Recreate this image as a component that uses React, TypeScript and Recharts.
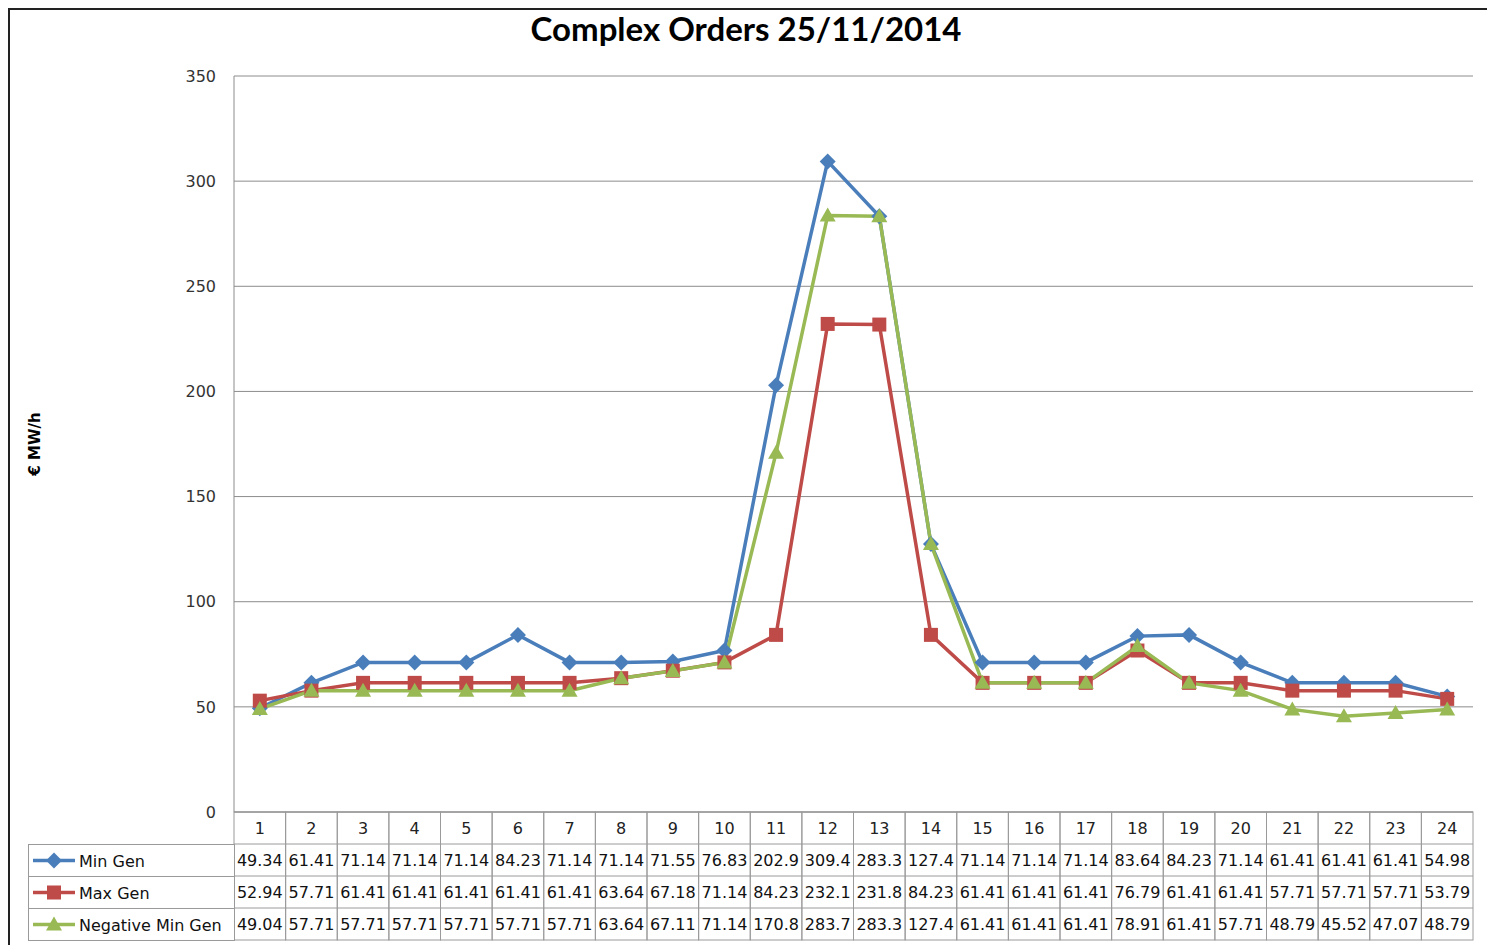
import {
  CartesianGrid,
  Legend,
  Line,
  LineChart,
  XAxis,
  YAxis
} from "recharts";

const hours = ["1", "2", "3", "4", "5", "6", "7", "8", "9", "10", "11", "12", "13", "14", "15", "16", "17", "18", "19", "20", "21", "22", "23", "24"];
const minGen = [49.34, 61.41, 71.14, 71.14, 71.14, 84.23, 71.14, 71.14, 71.55, 76.83, 202.9, 309.4, 283.3, 127.4, 71.14, 71.14, 71.14, 83.64, 84.23, 71.14, 61.41, 61.41, 61.41, 54.98];
const maxGen = [52.94, 57.71, 61.41, 61.41, 61.41, 61.41, 61.41, 63.64, 67.18, 71.14, 84.23, 232.1, 231.8, 84.23, 61.41, 61.41, 61.41, 76.79, 61.41, 61.41, 57.71, 57.71, 57.71, 53.79];
const negMinGen = [49.04, 57.71, 57.71, 57.71, 57.71, 57.71, 57.71, 63.64, 67.11, 71.14, 170.8, 283.7, 283.3, 127.4, 61.41, 61.41, 61.41, 78.91, 61.41, 57.71, 48.79, 45.52, 47.07, 48.79];
const yTicks = [0, 50, 100, 150, 200, 250, 300, 350];

const data = hours.map((h, i) => ({
  hour: h,
  minGen: minGen[i],
  maxGen: maxGen[i],
  negMinGen: negMinGen[i]
}));

const W = 1477;
const H = 935;
const PLOT_LEFT = 224;
const RIGHT = 14;
const COL_W = (W - PLOT_LEFT - RIGHT) / hours.length;
const ROW_H = 32;
const BORDER = "#9a9a9a";
const FONT = "'DejaVu Sans', Verdana, sans-serif";

const BLUE = "#4A7EBB";
const RED = "#BE4B48";
const GREEN = "#98B954";

function Marker({ kind, cx, cy, color }: { kind: string; cx: number; cy: number; color: string }) {
  if (kind === "diamond") {
    return <path d={`M${cx},${cy - 8}L${cx + 8},${cy}L${cx},${cy + 8}L${cx - 8},${cy}Z`} fill={color} />;
  }
  if (kind === "square") {
    return <rect x={cx - 7} y={cy - 7} width={14} height={14} fill={color} />;
  }
  return <path d={`M${cx},${cy - 8}L${cx + 8},${cy + 6}L${cx - 8},${cy + 6}Z`} fill={color} />;
}

const series = [
  { key: "minGen", name: "Min Gen", color: BLUE, kind: "diamond", values: minGen },
  { key: "maxGen", name: "Max Gen", color: RED, kind: "square", values: maxGen },
  { key: "negMinGen", name: "Negative Min Gen", color: GREEN, kind: "triangle", values: negMinGen }
];

function TableTick(props: any) {
  const { x, y, payload, index } = props;
  const left = x - COL_W / 2;
  return (
    <g>
      <rect x={left} y={y} width={COL_W} height={ROW_H * 4} fill="none" stroke={BORDER} strokeWidth={1} />
      {[1, 2, 3].map((r) => (
        <line key={r} x1={left} x2={left + COL_W} y1={y + ROW_H * r} y2={y + ROW_H * r} stroke={BORDER} />
      ))}
      <text x={x} y={y + ROW_H / 2 + 6} textAnchor="middle" fontSize={16} fontFamily={FONT} fill="#222">
        {payload.value}
      </text>
      {series.map((s, r) => (
        <text
          key={s.key}
          x={x}
          y={y + ROW_H * (r + 1) + ROW_H / 2 + 6}
          textAnchor="middle"
          fontSize={16}
          fontFamily={FONT}
          fill="#111"
        >
          {String(s.values[index])}
        </text>
      ))}
    </g>
  );
}

function TableLegend() {
  const w = 206;
  return (
    <svg width={w + 1} height={ROW_H * 3 + 1} style={{ display: "block" }}>
      {series.map((s, i) => {
        const y = i * ROW_H + 0.5;
        return (
          <g key={s.key}>
            <rect x={0.5} y={y} width={w} height={ROW_H} fill="#fff" stroke={BORDER} />
            <line x1={5} x2={47} y1={y + ROW_H / 2} y2={y + ROW_H / 2} stroke={s.color} strokeWidth={3.5} />
            <Marker kind={s.kind} cx={26} cy={y + ROW_H / 2} color={s.color} />
            <text x={51} y={y + ROW_H / 2 + 6} fontSize={16} fontFamily={FONT} fill="#111">
              {s.name}
            </text>
          </g>
        );
      })}
    </svg>
  );
}

function YLabel(props: any) {
  const vb = props.viewBox;
  const x = vb.x + 30;
  const y = vb.y + vb.height / 2;
  return (
    <text
      x={x}
      y={y}
      transform={`rotate(-90, ${x}, ${y})`}
      textAnchor="middle"
      fontSize={15}
      fontWeight="bold"
      fontFamily={FONT}
      fill="#000"
    >
      € MW/h
    </text>
  );
}

export default function App() {
  return (
    <div
      style={{
        position: "fixed",
        left: 8,
        top: 8,
        width: 1479,
        height: 937,
        borderLeft: "2px solid #222",
        borderTop: "2px solid #222",
        boxSizing: "border-box",
        background: "#fff"
      }}
    >
      <div
        style={{
          position: "absolute",
          left: 0,
          top: -1,
          width: 1472,
          textAlign: "center",
          fontFamily: "Lato, 'Open Sans', sans-serif",
          fontWeight: "bold",
          fontSize: 33,
          lineHeight: "38px",
          color: "#000"
        }}
      >
        Complex Orders 25/11/2014
      </div>
      <LineChart width={W} height={H} data={data} margin={{ top: 66, right: RIGHT, left: 0, bottom: 5 }}>
        <CartesianGrid vertical={false} stroke="#8c8c8c" strokeWidth={1} />
        <XAxis
          dataKey="hour"
          height={128}
          padding={{ left: COL_W / 2, right: COL_W / 2 }}
          tickLine={false}
          tickSize={0}
          tickMargin={0}
          axisLine={{ stroke: BORDER }}
          interval={0}
          tick={<TableTick />}
        />
        <YAxis
          width={PLOT_LEFT}
          domain={[0, 350]}
          ticks={yTicks}
          tickLine={false}
          tickSize={0}
          tickMargin={18}
          axisLine={{ stroke: "#8c8c8c" }}
          tick={{ fontSize: 16, fontFamily: FONT, fill: "#333" }}
          label={{ value: "€ MW/h", content: <YLabel /> }}
        />
        <Legend
          layout="vertical"
          align="center"
          verticalAlign="middle"
          content={<TableLegend />}
          wrapperStyle={{ left: 18, top: 834, bottom: "auto", width: 207 }}
        />
        {series.map((s) => (
          <Line
            key={s.key}
            dataKey={s.key}
            name={s.name}
            stroke={s.color}
            strokeWidth={3.5}
            isAnimationActive={false}
            dot={(p: any) => <Marker key={`${s.key}-${p.index}`} kind={s.kind} cx={p.cx} cy={p.cy} color={s.color} />}
            activeDot={false}
          />
        ))}
      </LineChart>
    </div>
  );
}
